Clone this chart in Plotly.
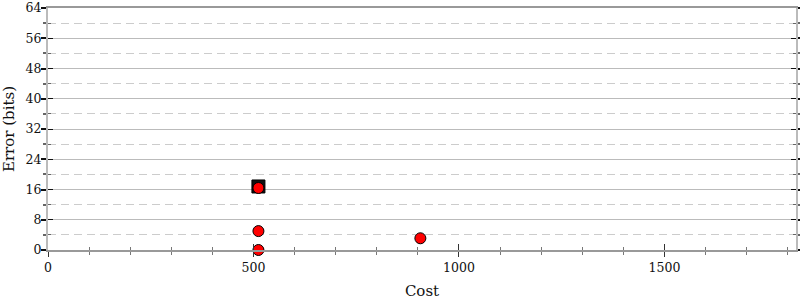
import plotly.graph_objects as go

# data
circle_cost = [512, 512, 512, 906]
circle_error = [0, 5, 16.4, 3.1]
square_cost = [512]
square_error = [16.8]

x_range = [0, 1820]
y_range = [0, 64]

font = dict(family="DejaVu Serif", size=12.5, color="#111")

fig = go.Figure()
fig.add_trace(go.Scatter(x=square_cost, y=square_error, mode="markers",
                         marker=dict(symbol="square", size=13, color="#111",
                                     line=dict(color="#000", width=1)),
                         showlegend=False, cliponaxis=False))
fig.add_trace(go.Scatter(x=circle_cost, y=circle_error, mode="markers",
                         marker=dict(symbol="circle", size=11, color="#ff0000",
                                     line=dict(color="#000", width=1)),
                         showlegend=False, cliponaxis=False))
# dummy trace for overlay axes
fig.add_trace(go.Scatter(x=[None], y=[None], xaxis="x2", yaxis="y2", showlegend=False))

fig.update_layout(
    width=800, height=300,
    margin=dict(l=48, r=4, t=8, b=50),
    plot_bgcolor="white", paper_bgcolor="white",
    font=font,
    xaxis=dict(range=x_range, dtick=500, tick0=0, showgrid=False, zeroline=False,
               automargin=False,
               showline=True, linecolor="#999", linewidth=2, mirror=True,
               ticks="outside", ticklen=5, tickcolor="#333", tickwidth=1,
               minor=dict(dtick=100, ticks="outside", ticklen=3, tickcolor="#777"),
               title=dict(text="Cost", standoff=14), tickfont=font),
    yaxis=dict(range=y_range, dtick=8, tick0=0, showgrid=True, gridcolor="#bbb", gridwidth=1,
               automargin=False,
               zeroline=False, showline=True, linecolor="#bbb", linewidth=2,
               mirror="allticks", ticklabelstandoff=-3,
               ticks="outside", ticklen=5, tickcolor="#111", tickwidth=1.5,
               minor=dict(dtick=4, tick0=4, ticks="outside", ticklen=3, tickcolor="#666",
                          showgrid=True, gridcolor="#ccc", griddash="8px,5px", gridwidth=1),
               title=dict(text="Error (bits)", standoff=8), tickfont=font),
    xaxis2=dict(range=x_range, overlaying="x", dtick=500, showticklabels=False, showgrid=False,
                automargin=False,
                zeroline=False, ticks="inside", ticklen=6, tickcolor="#333",
                minor=dict(dtick=100, ticks="inside", ticklen=3, tickcolor="#777")),
    yaxis2=dict(range=y_range, overlaying="y", dtick=8, showticklabels=False, showgrid=False,
                automargin=False,
                zeroline=False, ticks="inside", ticklen=5, tickcolor="#111", mirror="allticks",
                minor=dict(dtick=4, tick0=4, ticks="inside", ticklen=3, tickcolor="#666")),
)
fig.write_html("out.html")
